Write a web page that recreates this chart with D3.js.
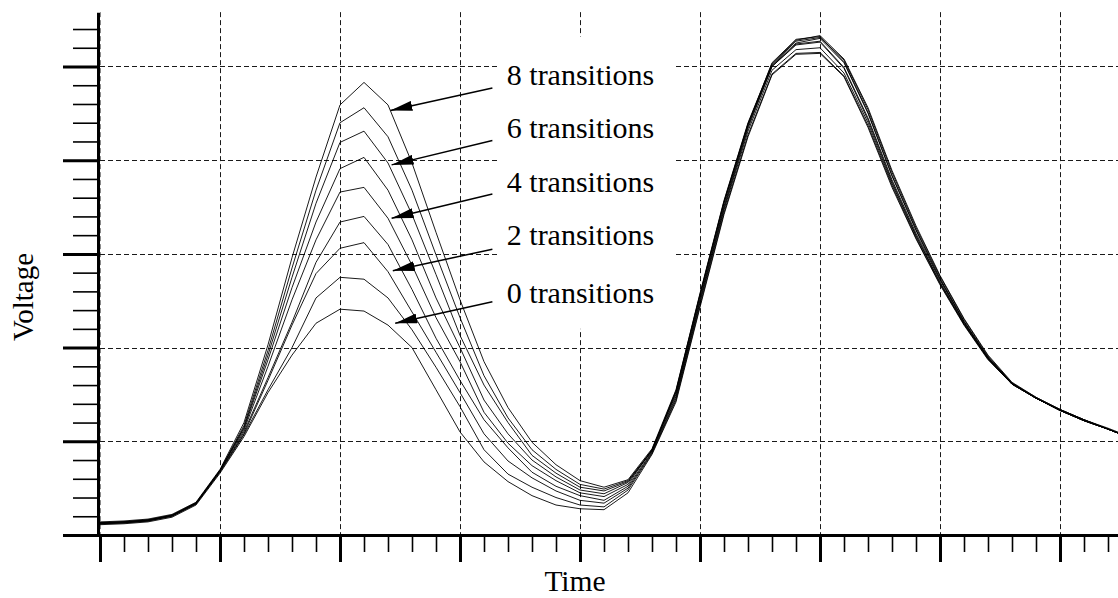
<!DOCTYPE html>
<html>
<head>
<meta charset="utf-8">
<script src="https://cdn.jsdelivr.net/npm/d3@7"></script>
<style>
  body { margin: 0; background: #fff; }
  text { font-family: "Liberation Serif", "Times New Roman", serif; fill: #000; }
</style>
</head>
<body>
<svg id="chart" width="1118" height="598"></svg>
<script>
// time axis (one major division = 1 unit)
const time = [0, 0.2, 0.4, 0.6, 0.8, 1.0, 1.2, 1.4, 1.6, 1.8, 2.0, 2.2, 2.4, 2.6, 2.8, 3.0, 3.2, 3.4, 3.6, 3.8,
  4.0, 4.2, 4.4, 4.6, 4.8, 5.0, 5.2, 5.4, 5.6, 5.8, 6.0, 6.2, 6.4, 6.6, 6.8, 7.0, 7.2, 7.4, 7.6, 7.8,
  8.0, 8.2, 8.4, 8.5]

// voltage per number of transitions (one major division = 1 unit)
const v0 = [0.11, 0.12, 0.14, 0.19, 0.32, 0.66, 1.05, 1.52, 1.92, 2.26, 2.41, 2.39, 2.24, 2.00, 1.55, 1.10, 0.78, 0.57, 0.42, 0.32, 0.28, 0.27, 0.45,
  0.86, 1.42, 2.43, 3.42, 4.25, 4.91, 5.13, 5.14, 4.89, 4.35, 3.71, 3.16, 2.67, 2.24, 1.87, 1.61, 1.46, 1.33, 1.22, 1.13, 1.08]
const v1 = [0.12, 0.13, 0.15, 0.20, 0.33, 0.67, 1.07, 1.55, 2.00, 2.53, 2.75, 2.73, 2.53, 2.19, 1.79, 1.37, 0.91, 0.65, 0.51, 0.40, 0.32, 0.30, 0.48,
  0.87, 1.44, 2.45, 3.44, 4.27, 4.92, 5.14, 5.15, 4.90, 4.37, 3.73, 3.17, 2.68, 2.25, 1.88, 1.61, 1.46, 1.33, 1.22, 1.13, 1.08]
const v2 = [0.13, 0.14, 0.16, 0.21, 0.34, 0.68, 1.08, 1.65, 2.24, 2.79, 3.06, 3.12, 2.81, 2.38, 1.95, 1.52, 1.08, 0.79, 0.61, 0.47, 0.37, 0.34, 0.50,
  0.88, 1.46, 2.48, 3.47, 4.31, 4.96, 5.18, 5.20, 4.93, 4.40, 3.75, 3.19, 2.69, 2.25, 1.88, 1.61, 1.46, 1.33, 1.22, 1.13, 1.08]
const v3 = [0.12, 0.13, 0.15, 0.20, 0.33, 0.68, 1.10, 1.68, 2.27, 2.91, 3.34, 3.40, 3.10, 2.62, 2.10, 1.65, 1.23, 0.93, 0.67, 0.52, 0.42, 0.37, 0.52,
  0.89, 1.48, 2.50, 3.49, 4.34, 5.00, 5.23, 5.26, 4.98, 4.43, 3.77, 3.20, 2.70, 2.26, 1.89, 1.62, 1.46, 1.33, 1.22, 1.13, 1.08]
const v4 = [0.13, 0.14, 0.16, 0.21, 0.34, 0.69, 1.12, 1.80, 2.51, 3.15, 3.66, 3.71, 3.38, 2.88, 2.32, 1.85, 1.31, 0.98, 0.74, 0.58, 0.45, 0.41, 0.54,
  0.91, 1.50, 2.52, 3.51, 4.36, 5.00, 5.24, 5.27, 4.99, 4.45, 3.79, 3.22, 2.72, 2.27, 1.89, 1.62, 1.47, 1.34, 1.23, 1.13, 1.08]
const v5 = [0.12, 0.13, 0.15, 0.21, 0.34, 0.69, 1.14, 1.87, 2.64, 3.34, 3.91, 4.03, 3.68, 3.15, 2.53, 2.00, 1.44, 1.08, 0.80, 0.62, 0.48, 0.44, 0.56,
  0.90, 1.52, 2.55, 3.54, 4.38, 5.04, 5.29, 5.32, 5.05, 4.51, 3.84, 3.26, 2.74, 2.28, 1.90, 1.62, 1.46, 1.34, 1.23, 1.14, 1.09]
const v6 = [0.13, 0.14, 0.16, 0.21, 0.34, 0.69, 1.15, 1.92, 2.75, 3.54, 4.19, 4.31, 3.97, 3.42, 2.78, 2.13, 1.60, 1.20, 0.85, 0.66, 0.51, 0.47, 0.57,
  0.91, 1.53, 2.56, 3.55, 4.38, 5.01, 5.25, 5.30, 5.04, 4.50, 3.83, 3.25, 2.73, 2.28, 1.89, 1.61, 1.46, 1.33, 1.22, 1.13, 1.08]
const v7 = [0.13, 0.14, 0.16, 0.21, 0.34, 0.69, 1.17, 1.97, 2.85, 3.68, 4.40, 4.56, 4.25, 3.68, 2.99, 2.32, 1.70, 1.25, 0.91, 0.70, 0.54, 0.49, 0.58,
  0.90, 1.54, 2.57, 3.56, 4.39, 5.02, 5.27, 5.31, 5.07, 4.54, 3.87, 3.28, 2.76, 2.30, 1.91, 1.62, 1.46, 1.33, 1.23, 1.13, 1.08]
const v8 = [0.14, 0.15, 0.17, 0.22, 0.35, 0.70, 1.20, 2.03, 2.96, 3.82, 4.59, 4.83, 4.59, 3.97, 3.23, 2.51, 1.85, 1.36, 0.99, 0.75, 0.58, 0.51, 0.59,
  0.92, 1.55, 2.58, 3.57, 4.40, 5.03, 5.28, 5.33, 5.08, 4.56, 3.89, 3.30, 2.77, 2.31, 1.92, 1.63, 1.47, 1.34, 1.23, 1.13, 1.08]
const series = [v0, v1, v2, v3, v4, v5, v6, v7, v8]

// annotations
const labels = ["8 transitions", "6 transitions", "4 transitions", "2 transitions", "0 transitions"]
const labelT = 3.39
const labelV = [4.80, 4.24, 3.66, 3.10, 2.48]
const arrowFromT = 3.27
const arrowFromV = [4.77, 4.21, 3.64, 3.05, 2.49]
const arrowToT = [2.42, 2.43, 2.43, 2.44, 2.46]
const arrowToV = [4.53, 3.95, 3.38, 2.82, 2.26]

const majorX = [0, 1, 2, 3, 4, 5, 6, 7, 8]
const majorY = [0, 1, 2, 3, 4, 5]

const width = 1118, height = 598
const x = d3.scaleLinear().domain([0, 8.5]).range([100, 1120])
const y = d3.scaleLinear().domain([0, 5.58]).range([535, 535 - 5.58 * 93.7])
const axisX = 98

const minorX = d3.range(0, 8.5, 0.2).filter(t => Math.abs(t - Math.round(t)) > 0.01)
const minorY = d3.range(0, 5.5, 0.2).filter(v => Math.abs(v - Math.round(v)) > 0.01)

const svg = d3.select("#chart")

svg.append("rect").attr("width", width).attr("height", height).attr("fill", "#fff")

svg.append("clipPath").attr("id", "plot")
  .append("rect").attr("x", axisX).attr("y", 0).attr("width", width - axisX).attr("height", 536)

// grid
const grid = svg.append("g")
  .attr("stroke", "#1a1a1a")
  .attr("stroke-width", 1)
  .attr("stroke-dasharray", "5,3")

grid.selectAll("line.v")
  .data(majorX)
  .join("line")
  .attr("class", "v")
  .attr("x1", d => Math.round(x(d)) + 0.5)
  .attr("x2", d => Math.round(x(d)) + 0.5)
  .attr("y1", y.range()[1])
  .attr("y2", y(0))
  .attr("stroke", d => d === 0 ? "#888" : null)

grid.selectAll("line.h")
  .data(majorY.filter(d => d > 0))
  .join("line")
  .attr("class", "h")
  .attr("x1", x(0))
  .attr("x2", width)
  .attr("y1", d => Math.round(y(d)) + 0.5)
  .attr("y2", d => Math.round(y(d)) + 0.5)

// white box behind the labels
svg.append("rect")
  .attr("x", x(3.31))
  .attr("y", y(5.32))
  .attr("width", x(4.78) - x(3.31))
  .attr("height", y(2.20) - y(5.32))
  .attr("fill", "#fff")

// curves
const line = d3.line()
  .x((d, i) => x(time[i]))
  .y(d => y(d))

svg.append("g")
  .attr("clip-path", "url(#plot)")
  .attr("fill", "none")
  .attr("stroke", "#000")
  .attr("stroke-width", 0.9)
  .selectAll("path")
  .data(series)
  .join("path")
  .attr("d", line)

// axes
const yMinor = svg.append("g")
  .attr("transform", `translate(${axisX},0)`)
  .call(d3.axisLeft(y).tickValues(minorY).tickSize(25).tickSizeOuter(0).tickFormat(""))
yMinor.select(".domain").remove()
yMinor.selectAll(".tick line").attr("stroke-width", 1.6)

const yMajor = svg.append("g")
  .attr("transform", `translate(${axisX},0)`)
  .call(d3.axisLeft(y).tickValues(majorY).tickSize(35).tickSizeOuter(0).tickFormat(""))
yMajor.select(".domain").attr("stroke-width", 3)
yMajor.selectAll(".tick line").attr("stroke-width", 3)

const xMinor = svg.append("g")
  .attr("transform", `translate(0,${y(0)})`)
  .call(d3.axisBottom(x).tickValues(minorX).tickSize(17).tickSizeOuter(0).tickFormat(""))
xMinor.select(".domain").remove()
xMinor.selectAll(".tick line").attr("stroke-width", 1.6)

const xMajor = svg.append("g")
  .attr("transform", `translate(0,${y(0)})`)
  .call(d3.axisBottom(x).tickValues(majorX).tickSize(27).tickSizeOuter(0).tickFormat(""))
xMajor.select(".domain").attr("stroke-width", 3)
  .attr("d", `M${axisX},0.5H${width}`)
xMajor.selectAll(".tick line").attr("stroke-width", 3)

// arrows
svg.append("defs").append("marker")
  .attr("id", "head")
  .attr("markerUnits", "userSpaceOnUse")
  .attr("viewBox", "0 0 22 10")
  .attr("markerWidth", 22)
  .attr("markerHeight", 10)
  .attr("refX", 22)
  .attr("refY", 5)
  .attr("orient", "auto")
  .append("path")
  .attr("d", "M0,0L22,5L0,10Z")
  .attr("fill", "#000")

svg.append("g")
  .selectAll("line")
  .data(labels)
  .join("line")
  .attr("x1", x(arrowFromT))
  .attr("y1", (d, i) => y(arrowFromV[i]))
  .attr("x2", (d, i) => x(arrowToT[i]))
  .attr("y2", (d, i) => y(arrowToV[i]))
  .attr("stroke", "#000")
  .attr("stroke-width", 1.5)
  .attr("marker-end", "url(#head)")

svg.append("g")
  .attr("font-size", 30)
  .selectAll("text")
  .data(labels)
  .join("text")
  .attr("x", x(labelT))
  .attr("y", (d, i) => y(labelV[i]))
  .text(d => d)

// axis titles
svg.append("text")
  .attr("x", 575)
  .attr("y", 591)
  .attr("text-anchor", "middle")
  .attr("font-size", 29.5)
  .text("Time")

svg.append("text")
  .attr("transform", "translate(33,297) rotate(-90)")
  .attr("text-anchor", "middle")
  .attr("font-size", 29)
  .text("Voltage")
</script>
</body>
</html>
